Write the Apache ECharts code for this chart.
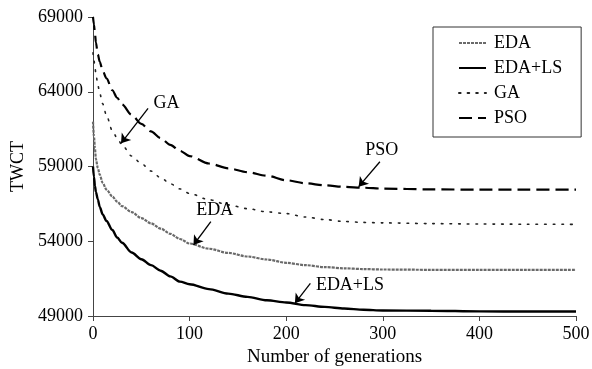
<!DOCTYPE html>
<html>
<head>
<meta charset="utf-8">
<script src="https://cdn.jsdelivr.net/npm/echarts@6/dist/echarts.min.js"></script>
<style>
html,body{margin:0;padding:0;background:#fff;}
#chart{width:592px;height:369px;}
</style>
</head>
<body>
<div id="chart"></div>
<script>
const generations = [0,1,2,3,5,7,10,14,20,25,30,40,50,60,70,80,90,100,120,140,160,180,200,220,240,260,280,300,350,400,450,500];
const edaValues   = [62000,61000,60200,59500,58900,58450,57900,57450,57000,56650,56350,55950,55550,55200,54850,54500,54150,53850,53500,53220,52980,52780,52560,52400,52270,52190,52140,52110,52090,52080,52080,52080];
const edaLsValues = [59000,58300,57700,57300,56800,56300,55800,55350,54750,54250,53900,53250,52800,52400,52030,51650,51300,51120,50800,50500,50280,50050,49900,49730,49610,49500,49420,49370,49350,49310,49300,49300];
const gaValues    = [66600,66100,65650,65200,64450,63900,63200,62400,61400,60900,60450,59700,59200,58700,58250,57850,57500,57200,56780,56430,56180,55970,55850,55620,55450,55320,55260,55230,55180,55150,55140,55130];
const psoValues   = [69000,68500,67900,67300,66500,66000,65400,64900,64100,63600,63150,62450,61850,61350,60900,60450,60050,59700,59200,58880,58620,58380,58080,57880,57740,57640,57580,57520,57470,57450,57450,57450];
const seriesNames = ['EDA','EDA+LS','GA','PSO'];
const xTicks = [0,100,200,300,400,500];
const yTicks = [49000,54000,59000,64000,69000];

// annotation callouts (label position, arrow start, arrow tip) in data units
const annotations = [
  {series:'GA',     label:[76,63250],  from:[57,62890],  to:[29,60550]},
  {series:'PSO',    label:[299,60100], from:[297,59320], to:[275,57650]},
  {series:'EDA',    label:[126,56090], from:[122,55310], to:[104,53750]},
  {series:'EDA+LS', label:[266,51070], from:[225,51180], to:[209,49850]}
];

const FONT = '"Liberation Serif","Times New Roman",serif';
const pair = vals => generations.map((g,i)=>[g, vals[i]]);

const styles = {
  'EDA':    {color:'#6a6a6a', width:2.2, type:[3,1]},
  'EDA+LS': {color:'#000', width:2.4, type:'solid'},
  'GA':     {color:'#222', width:1.6, type:[1.6,7]},
  'PSO':    {color:'#000', width:2.2, type:[13,6]}
};
const valuesByName = {'EDA':edaValues,'EDA+LS':edaLsValues,'GA':gaValues,'PSO':psoValues};

const series = seriesNames.map(name => {
  const st = styles[name];
  const ann = annotations.find(a => a.series === name);
  return {
    name: name,
    type: 'line',
    data: pair(valuesByName[name]),
    symbol: 'none',
    smooth: 0.3,
    smoothMonotone: 'x',
    itemStyle: {color: st.color},
    lineStyle: {color: st.color, width: st.width, type: st.type, cap: name==='GA' ? 'round' : 'butt'},
    markLine: {
      silent: true,
      animation: false,
      symbol: ['none','arrow'],
      symbolSize: 9,
      label: {show:false},
      lineStyle: {color:'#000', width:1.3, type:'solid'},
      data: [[{coord: ann.from}, {coord: ann.to}]]
    },
    markPoint: {
      silent: true,
      animation: false,
      symbol: 'circle',
      symbolSize: 1,
      itemStyle: {color:'rgba(0,0,0,0)'},
      label: {show:true, position:'inside', color:'#000', fontSize:18, fontFamily:FONT, formatter: p => p.name},
      data: [{name: name, coord: ann.label}]
    }
  };
});

const chart = echarts.init(document.getElementById('chart'), null, {renderer:'canvas'});
chart.setOption({
  animation: false,
  backgroundColor: '#fff',
  grid: {left:93, right:16, top:17, bottom:53, containLabel:false, outerBoundsMode:'none'},
  legend: {
    data: seriesNames,
    orient: 'vertical',
    left: 433,
    top: 27,
    padding: [7, 19, 10, 25],
    itemGap: 7,
    itemWidth: 27,
    itemHeight: 14,
    borderColor: '#333',
    borderWidth: 1,
    itemStyle: {color:'rgba(0,0,0,0)', borderColor:'rgba(0,0,0,0)', borderWidth:0, opacity:0},
    textStyle: {color:'#000', fontSize:18, fontFamily:FONT, padding:[0,0,0,3]}
  },
  xAxis: {
    type: 'value',
    min: xTicks[0],
    max: xTicks[xTicks.length-1],
    interval: 100,
    name: 'Number of generations',
    nameLocation: 'middle',
    nameGap: 32,
    nameTextStyle: {color:'#000', fontSize:19, fontFamily:FONT},
    axisLine: {show:true, lineStyle:{color:'#444', width:1}},
    axisTick: {show:true, length:5, lineStyle:{color:'#444'}},
    axisLabel: {color:'#000', fontSize:18, fontFamily:FONT, margin:9, formatter: v => String(v)},
    splitLine: {show:false}
  },
  yAxis: {
    type: 'value',
    min: yTicks[0],
    max: yTicks[yTicks.length-1],
    interval: 5000,
    name: 'TWCT',
    nameLocation: 'middle',
    nameGap: 66,
    nameRotate: 90,
    nameTextStyle: {color:'#000', fontSize:18, fontFamily:FONT},
    axisLine: {show:true, lineStyle:{color:'#444', width:1}},
    axisTick: {show:true, length:5, lineStyle:{color:'#444'}},
    axisLabel: {color:'#000', fontSize:18, fontFamily:FONT, margin:10, formatter: v => String(v)},
    splitLine: {show:false}
  },
  series: series
});
</script>
</body>
</html>
